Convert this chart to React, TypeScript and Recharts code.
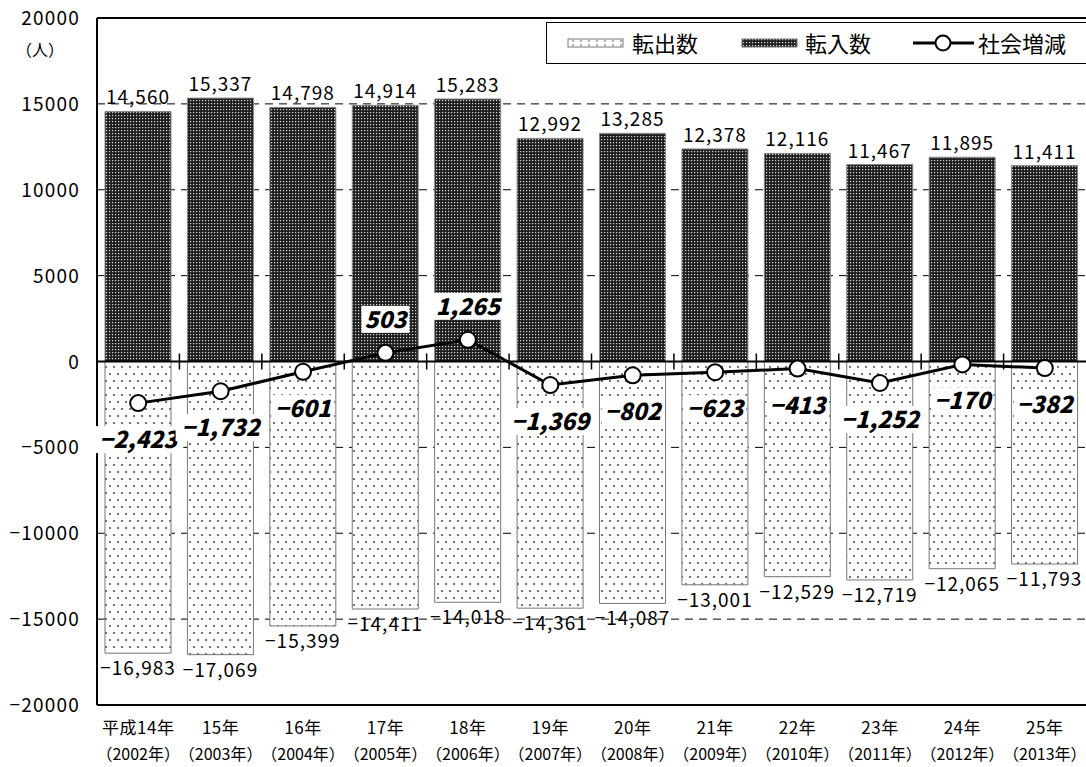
import {
  ComposedChart, Bar, Line,
  XAxis, YAxis, CartesianGrid,
  ReferenceLine, LabelList,
} from 'recharts';

const FONT = '"Noto Sans CJK JP", "Noto Sans", sans-serif';

// 年度（和暦・西暦）
const eras = ['平成14年', '15年', '16年', '17年', '18年', '19年', '20年', '21年', '22年', '23年', '24年', '25年'];
const years = ['（2002年）', '（2003年）', '（2004年）', '（2005年）', '（2006年）', '（2007年）',
  '（2008年）', '（2009年）', '（2010年）', '（2011年）', '（2012年）', '（2013年）'];

// 転入数 / 転出数 / 社会増減
const inflow = [14560, 15337, 14798, 14914, 15283, 12992, 13285, 12378, 12116, 11467, 11895, 11411];
const outflow = [-16983, -17069, -15399, -14411, -14018, -14361, -14087, -13001, -12529, -12719, -12065, -11793];
const netChange = [-2423, -1732, -601, 503, 1265, -1369, -802, -623, -413, -1252, -170, -382];

const yTicks = [-20000, -15000, -10000, -5000, 0, 5000, 10000, 15000, 20000];

const data = eras.map((era, i) => ({
  era,
  inflow: inflow[i],
  outflow: outflow[i],
  net: netChange[i],
}));

const fmt = (v: number) => (v < 0 ? '−' : '') + Math.abs(v).toLocaleString('en-US');

function Patterns() {
  return (
    <defs>
      <pattern id="darkDots" width="3" height="3" patternUnits="userSpaceOnUse">
        <rect width="3" height="3" fill="#1e1e1e" />
        <rect x="1" y="1" width="1.2" height="1.2" fill="#dcdcdc" />
      </pattern>
      <pattern id="lightDots" width="8" height="14" patternUnits="userSpaceOnUse">
        <rect width="8" height="14" fill="#fff" />
        <circle cx="2" cy="3" r="1" fill="#444" />
        <circle cx="6" cy="10" r="1" fill="#444" />
      </pattern>
    </defs>
  );
}

const XTick = (props: any) => {
  const { x, y, payload } = props;
  return (
    <g>
      <text x={x} y={y + 21} textAnchor="middle" fontSize={17} letterSpacing={0.5} fontFamily={FONT} fill="#000">
        {payload.value}
      </text>
      <text x={x} y={y + 47} textAnchor="middle" fontSize={16} letterSpacing={0} fontFamily={FONT} fill="#000">
        {years[payload.index]}
      </text>
    </g>
  );
};

const YTick = (props: any) => {
  const { x, y, payload } = props;
  const v = payload.value as number;
  return (
    <text x={x} y={y + 7} textAnchor="end" fontSize={19} letterSpacing={1.2} fontFamily={FONT} fill="#000">
      {(v < 0 ? '−' : '') + Math.abs(v)}
    </text>
  );
};

const InflowLabel = (props: any) => {
  const { x, y, width, value } = props;
  return (
    <text x={x + width / 2} y={y - 7} textAnchor="middle" fontSize={19} letterSpacing={1} fontFamily={FONT} fill="#000">
      {fmt(value)}
    </text>
  );
};

const OutflowLabel = (props: any) => {
  const { x, y, width, height, value } = props;
  const bottom = Math.max(y, y + height);
  return (
    <text x={x + width / 2} y={bottom + 22} textAnchor="middle" fontSize={19} letterSpacing={1} fontFamily={FONT} fill="#000">
      {fmt(value)}
    </text>
  );
};

const NetLabel = (props: any) => {
  const { x, y, value } = props;
  const text = fmt(value);
  const cy = value > 0 ? y - 33 : y + 37;
  const w = text.length * 14 + 6;
  return (
    <g>
      <rect x={x - w / 2} y={cy - 14} width={w} height={27} fill="#fff" />
      <text
        x={x} y={cy + 8} textAnchor="middle"
        fontSize={23} fontWeight={900} fontStyle="italic" fontFamily={FONT} fill="#000"
      >
        {text}
      </text>
    </g>
  );
};

// zero line with short ticks at category boundaries
const ZeroLine = (props: any) => {
  const { x1, x2, y1 } = props;
  const n = eras.length;
  const step = (x2 - x1) / n;
  return (
    <g>
      <line x1={x1} x2={x2} y1={y1} y2={y1} stroke="#000" strokeWidth={2} />
      {eras.slice(1).map((_, i) => (
        <line key={i} x1={x1 + step * (i + 1)} x2={x1 + step * (i + 1)} y1={y1 - 8} y2={y1 + 8} stroke="#000" strokeWidth={1.5} />
      ))}
    </g>
  );
};

function LegendBox() {
  return (
    <div
      style={{
        position: 'absolute', left: 546, top: 22, width: 560, height: 42,
        border: '1.5px solid #000', background: '#fff', fontFamily: FONT, fontSize: 22,
        boxSizing: 'border-box',
      }}
    >
      <svg width={560} height={42} style={{ position: 'absolute', left: 0, top: 0 }}>
        <defs>
          <pattern id="darkDotsL" width="3" height="3" patternUnits="userSpaceOnUse">
            <rect width="3" height="3" fill="#1e1e1e" />
            <rect x="1" y="1" width="1.2" height="1.2" fill="#dcdcdc" />
          </pattern>
          <pattern id="lightDotsL" width="8" height="4" patternUnits="userSpaceOnUse">
            <rect width="8" height="4" fill="#fff" />
            <circle cx="2" cy="2" r="0.8" fill="#444" />
          </pattern>
        </defs>
        <rect x={21} y={16} width={55} height={8} fill="url(#lightDotsL)" stroke="#777" strokeWidth={1} />
        <rect x={195} y={16} width={55} height={8} fill="url(#darkDotsL)" stroke="#777" strokeWidth={1} />
        <line x1={366} x2={427} y1={20} y2={20} stroke="#000" strokeWidth={3} />
        <circle cx={396} cy={20} r={7.5} fill="#fff" stroke="#000" strokeWidth={2} />
      </svg>
      <span style={{ position: 'absolute', left: 85, top: 4, lineHeight: '30px' }}>転出数</span>
      <span style={{ position: 'absolute', left: 258, top: 4, lineHeight: '30px' }}>転入数</span>
      <span style={{ position: 'absolute', left: 431, top: 4, lineHeight: '30px' }}>社会増減</span>
    </div>
  );
}

export default function App() {
  return (
    <div style={{ position: 'absolute', left: 0, top: 0, width: 1086, height: 767, background: '#fff', overflow: 'hidden' }}>
      <ComposedChart
        width={1086}
        height={767}
        data={data}
        stackOffset="sign"
        margin={{ top: 18, right: 0, left: 0, bottom: 0 }}
        barCategoryGap={8}
      >
        <Patterns />
        <CartesianGrid vertical={false} stroke="#000" strokeWidth={1} strokeDasharray="8 6" />
        <XAxis
          dataKey="era"
          interval={0}
          height={62}
          tickLine={false}
          axisLine={{ stroke: '#000', strokeWidth: 2 }}
          tick={<XTick />}
        />
        <YAxis
          width={97}
          domain={[-20000, 20000]}
          ticks={yTicks}
          tickLine={false}
          tickSize={0}
          tickMargin={17}
          axisLine={{ stroke: '#000', strokeWidth: 2 }}
          tick={<YTick />}
        />
        <ReferenceLine y={20000} stroke="#000" strokeWidth={2} />
        <Bar dataKey="inflow" stackId="a" fill="url(#darkDots)" stroke="#888" strokeWidth={1} isAnimationActive={false}>
          <LabelList dataKey="inflow" content={<InflowLabel />} />
        </Bar>
        <Bar dataKey="outflow" stackId="a" fill="url(#lightDots)" stroke="#777" strokeWidth={1} isAnimationActive={false}>
          <LabelList dataKey="outflow" content={<OutflowLabel />} />
        </Bar>
        <ReferenceLine y={0} shape={<ZeroLine />} />
        <Line
          type="linear"
          dataKey="net"
          stroke="#000"
          strokeWidth={3}
          dot={{ r: 8, fill: '#fff', stroke: '#000', strokeWidth: 2 }}
          activeDot={false}
          isAnimationActive={false}
        >
          <LabelList dataKey="net" content={<NetLabel />} />
        </Line>
      </ComposedChart>
      <div style={{ position: 'absolute', left: 16, top: 37, fontSize: 16, fontFamily: FONT }}>（人）</div>
      <LegendBox />
    </div>
  );
}
